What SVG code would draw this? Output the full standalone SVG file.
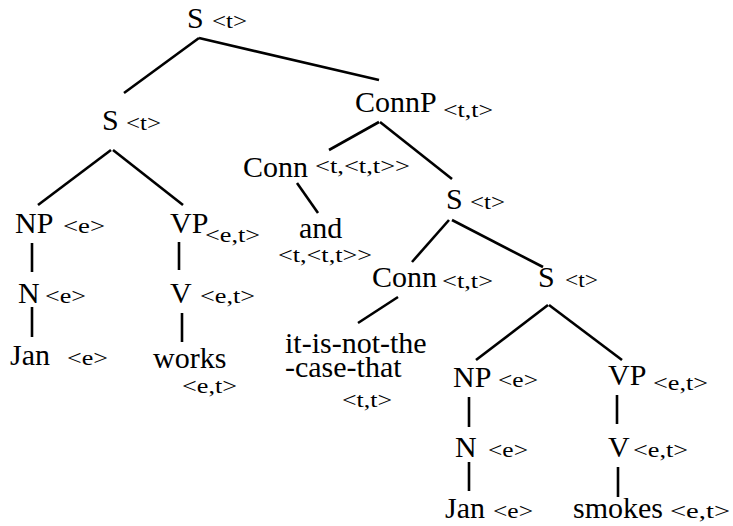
<svg xmlns="http://www.w3.org/2000/svg" width="733" height="526" viewBox="0 0 733 526">
  <style>
    text { font-family: "Times New Roman", "Liberation Serif", serif; fill: #000; }
    .lbl { font-size: 30px; }
    .typ { font-size: 20px; }
    .edge { stroke: #000; stroke-width: 2.6; fill: none; }
  </style>
  <rect width="733" height="526" fill="#fff"/>

  <!-- tree branches -->
  <g id="edges" class="edge">
    <line x1="199" y1="38" x2="124" y2="93"/>
    <line x1="199" y1="38" x2="379" y2="80"/>
    <line x1="111" y1="150" x2="38" y2="205"/>
    <line x1="113" y1="150" x2="183" y2="205"/>
    <line x1="32" y1="243" x2="32" y2="272"/>
    <line x1="32" y1="307" x2="32" y2="337"/>
    <line x1="179" y1="242" x2="179" y2="270"/>
    <line x1="182" y1="313" x2="182" y2="342"/>
    <line x1="379" y1="122" x2="329" y2="150"/>
    <line x1="380" y1="122" x2="452" y2="179"/>
    <line x1="297" y1="183" x2="318" y2="213"/>
    <line x1="449" y1="220" x2="412" y2="262"/>
    <line x1="452" y1="220" x2="543" y2="267"/>
    <line x1="398" y1="297" x2="358" y2="323"/>
    <line x1="548" y1="305" x2="476" y2="360"/>
    <line x1="549" y1="305" x2="622" y2="360"/>
    <line x1="469" y1="397" x2="469" y2="427"/>
    <line x1="469" y1="462" x2="469" y2="491"/>
    <line x1="617" y1="395" x2="617" y2="424"/>
    <line x1="618" y1="467" x2="618" y2="497"/>
  </g>

  <!-- nodes: category label (30px) + semantic type (20px, widened) -->
  <g id="root">
    <text class="lbl" x="187" y="28">S</text>
    <text class="typ" x="212" y="28" textLength="35" lengthAdjust="spacingAndGlyphs">&lt;t&gt;</text>
  </g>
  <g id="s-left">
    <text class="lbl" x="102" y="130">S</text>
    <text class="typ" x="126" y="130" textLength="35" lengthAdjust="spacingAndGlyphs">&lt;t&gt;</text>
  </g>
  <g id="connp">
    <text class="lbl" x="355" y="112">ConnP</text>
    <text class="typ" x="443" y="117" textLength="50" lengthAdjust="spacingAndGlyphs">&lt;t,t&gt;</text>
  </g>
  <g id="conn-and">
    <text class="lbl" x="243" y="177">Conn</text>
    <text class="typ" x="315" y="173" textLength="95" lengthAdjust="spacingAndGlyphs">&lt;t,&lt;t,t&gt;&gt;</text>
  </g>
  <g id="and">
    <text class="lbl" x="299" y="238">and</text>
    <text class="typ" x="278" y="262" textLength="94" lengthAdjust="spacingAndGlyphs">&lt;t,&lt;t,t&gt;&gt;</text>
  </g>
  <g id="s-right">
    <text class="lbl" x="446" y="209">S</text>
    <text class="typ" x="470" y="209" textLength="35" lengthAdjust="spacingAndGlyphs">&lt;t&gt;</text>
  </g>
  <g id="np-left">
    <text class="lbl" x="15" y="233">NP</text>
    <text class="typ" x="63" y="233" textLength="42" lengthAdjust="spacingAndGlyphs">&lt;e&gt;</text>
  </g>
  <g id="vp-left">
    <text class="lbl" x="170" y="233">VP</text>
    <text class="typ" x="205" y="242" textLength="55" lengthAdjust="spacingAndGlyphs">&lt;e,t&gt;</text>
  </g>
  <g id="n-left">
    <text class="lbl" x="18" y="303">N</text>
    <text class="typ" x="45" y="303" textLength="41" lengthAdjust="spacingAndGlyphs">&lt;e&gt;</text>
  </g>
  <g id="v-left">
    <text class="lbl" x="170" y="303">V</text>
    <text class="typ" x="200" y="303" textLength="55" lengthAdjust="spacingAndGlyphs">&lt;e,t&gt;</text>
  </g>
  <g id="jan-left">
    <text class="lbl" x="10" y="365">Jan</text>
    <text class="typ" x="67" y="365" textLength="41" lengthAdjust="spacingAndGlyphs">&lt;e&gt;</text>
  </g>
  <g id="works">
    <text class="lbl" x="153" y="368">works</text>
    <text class="typ" x="182" y="393" textLength="55" lengthAdjust="spacingAndGlyphs">&lt;e,t&gt;</text>
  </g>
  <g id="conn-neg">
    <text class="lbl" x="372" y="287">Conn</text>
    <text class="typ" x="442" y="288" textLength="51" lengthAdjust="spacingAndGlyphs">&lt;t,t&gt;</text>
  </g>
  <g id="s-inner">
    <text class="lbl" x="538" y="287">S</text>
    <text class="typ" x="565" y="287" textLength="33" lengthAdjust="spacingAndGlyphs">&lt;t&gt;</text>
  </g>
  <g id="negation">
    <text class="lbl" x="285" y="353">it-is-not-the<tspan x="285" y="377">-case-that</tspan></text>
    <text class="typ" x="342" y="407" textLength="50" lengthAdjust="spacingAndGlyphs">&lt;t,t&gt;</text>
  </g>
  <g id="np-right">
    <text class="lbl" x="453" y="387">NP</text>
    <text class="typ" x="498" y="387" textLength="40" lengthAdjust="spacingAndGlyphs">&lt;e&gt;</text>
  </g>
  <g id="vp-right">
    <text class="lbl" x="608" y="385">VP</text>
    <text class="typ" x="653" y="390" textLength="55" lengthAdjust="spacingAndGlyphs">&lt;e,t&gt;</text>
  </g>
  <g id="n-right">
    <text class="lbl" x="455" y="457">N</text>
    <text class="typ" x="488" y="457" textLength="40" lengthAdjust="spacingAndGlyphs">&lt;e&gt;</text>
  </g>
  <g id="v-right">
    <text class="lbl" x="608" y="457">V</text>
    <text class="typ" x="633" y="457" textLength="55" lengthAdjust="spacingAndGlyphs">&lt;e,t&gt;</text>
  </g>
  <g id="jan-right">
    <text class="lbl" x="445" y="518">Jan</text>
    <text class="typ" x="493" y="518" textLength="40" lengthAdjust="spacingAndGlyphs">&lt;e&gt;</text>
  </g>
  <g id="smokes">
    <text class="lbl" x="573" y="518">smokes</text>
    <text class="typ" x="670" y="518" textLength="60" lengthAdjust="spacingAndGlyphs">&lt;e,t&gt;</text>
  </g>
</svg>
